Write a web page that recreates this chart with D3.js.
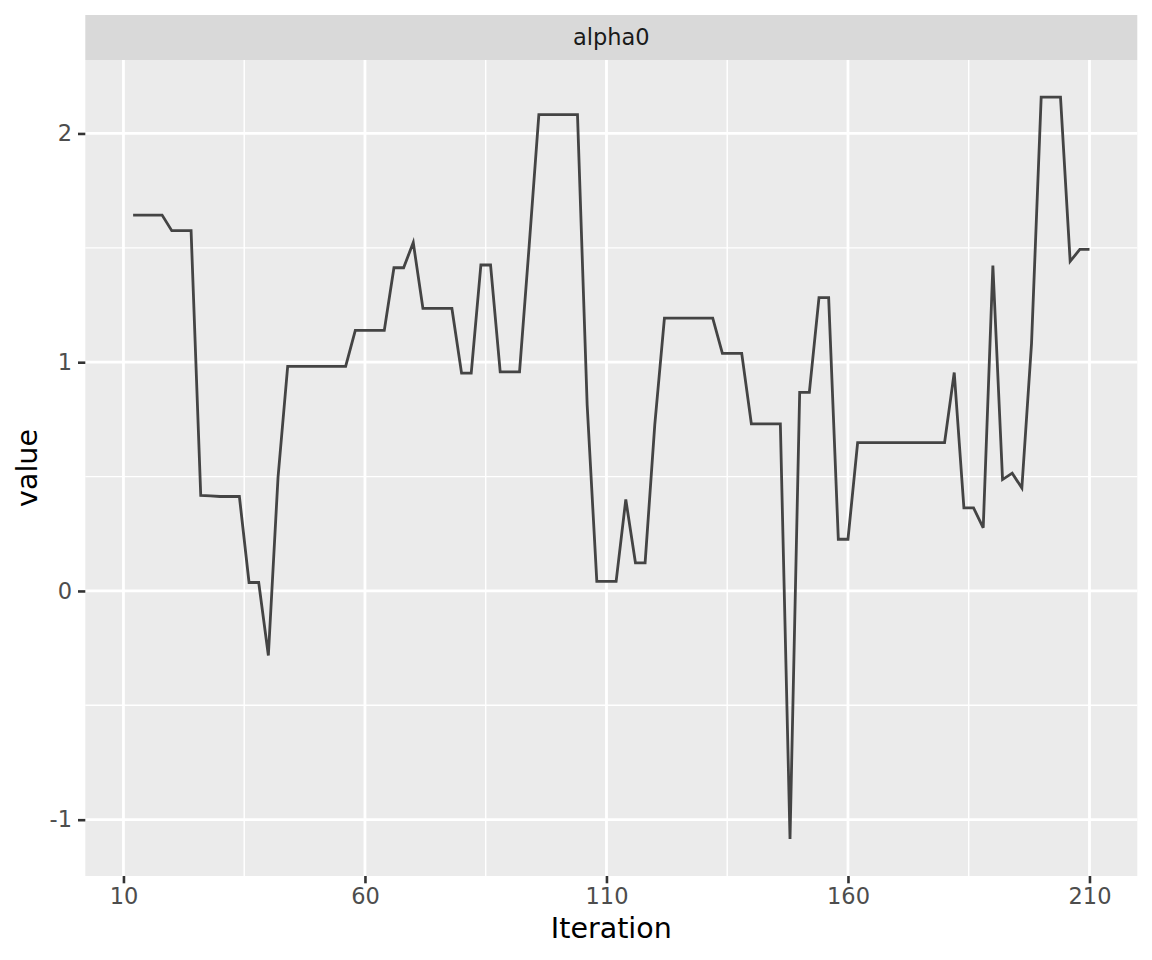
<!DOCTYPE html>
<html>
<head>
<meta charset="utf-8">
<script src="https://cdn.jsdelivr.net/npm/d3@7"></script>
<style>
  html, body { margin: 0; padding: 0; background: #fff; }
  svg text { font-family: "DejaVu Sans", sans-serif; }
</style>
</head>
<body>
<svg id="chart" width="1152" height="960"></svg>
<script>
// trace of alpha0, one value every 2 iterations
const iterations = [
  12, 14, 16, 18, 20, 22, 24, 26, 28, 30, 32, 34, 36, 38, 40, 42, 44, 46, 48, 50,
  52, 54, 56, 58, 60, 62, 64, 66, 68, 70, 72, 74, 76, 78, 80, 82, 84, 86, 88, 90,
  92, 94, 96, 98, 100, 102, 104, 106, 108, 110, 112, 114, 116, 118, 120, 122, 124, 126, 128, 130,
  132, 134, 136, 138, 140, 142, 144, 146, 148, 150, 152, 154, 156, 158, 160, 162, 164, 166, 168, 170,
  172, 174, 176, 178, 180, 182, 184, 186, 188, 190, 192, 194, 196, 198, 200, 202, 204, 206, 208, 210
];
const alpha0 = [
  1.643, 1.643, 1.643, 1.643, 1.575, 1.575, 1.575, 0.418, 0.416, 0.413,
  0.413, 0.413, 0.037, 0.037, -0.282, 0.496, 0.982, 0.982, 0.982, 0.982,
  0.982, 0.982, 0.982, 1.139, 1.139, 1.139, 1.139, 1.413, 1.413, 1.523,
  1.235, 1.235, 1.235, 1.235, 0.952, 0.952, 1.425, 1.425, 0.958, 0.958,
  0.958, 1.51, 2.082, 2.082, 2.082, 2.082, 2.082, 0.814, 0.042, 0.042,
  0.042, 0.400, 0.123, 0.123, 0.726, 1.193, 1.193, 1.193, 1.193, 1.193,
  1.193, 1.039, 1.039, 1.039, 0.730, 0.730, 0.730, 0.730, -1.084, 0.868,
  0.868, 1.282, 1.282, 0.226, 0.226, 0.648, 0.648, 0.648, 0.648, 0.648,
  0.648, 0.648, 0.648, 0.648, 0.648, 0.955, 0.363, 0.363, 0.276, 1.423,
  0.487, 0.515, 0.450, 1.081, 2.159, 2.159, 2.159, 1.441, 1.493, 1.493
];
const panelLabel = "alpha0";
const xMajor = [10, 60, 110, 160, 210];
const xMinor = [35, 85, 135, 185];
const yMajor = [-1, 0, 1, 2];
const yMinor = [-0.5, 0.5, 1.5];

const data = iterations.map((it, i) => ({ it, v: alpha0[i] }));

const panel = { left: 85.3, right: 1137.3, top: 60, bottom: 876 };
const strip = { top: 15, bottom: 60 };

// ggplot-like 5% expansion
function expand(ext) { const d = (ext[1] - ext[0]) * 0.05; return [ext[0] - d, ext[1] + d]; }

const x = d3.scaleLinear().domain(expand(d3.extent(iterations))).range([panel.left, panel.right]);
const y = d3.scaleLinear().domain(expand(d3.extent(alpha0))).range([panel.bottom, panel.top]);

const svg = d3.select("#chart");

// strip
svg.append("rect")
  .attr("x", panel.left).attr("y", strip.top)
  .attr("width", panel.right - panel.left).attr("height", strip.bottom - strip.top)
  .attr("fill", "#D9D9D9");
svg.append("text")
  .attr("x", (panel.left + panel.right) / 2).attr("y", (strip.top + strip.bottom) / 2)
  .attr("dy", "0.35em").attr("text-anchor", "middle")
  .attr("fill", "#1A1A1A").style("font-size", "22.5px")
  .text(panelLabel);

// panel background
svg.append("rect")
  .attr("x", panel.left).attr("y", panel.top)
  .attr("width", panel.right - panel.left).attr("height", panel.bottom - panel.top)
  .attr("fill", "#EBEBEB");

const grid = svg.append("g");
grid.selectAll(".ymin").data(yMinor).enter().append("line")
  .attr("x1", panel.left).attr("x2", panel.right)
  .attr("y1", d => y(d)).attr("y2", d => y(d))
  .attr("stroke", "#fff").attr("stroke-width", 1.4);
grid.selectAll(".xmin").data(xMinor).enter().append("line")
  .attr("y1", panel.top).attr("y2", panel.bottom)
  .attr("x1", d => x(d)).attr("x2", d => x(d))
  .attr("stroke", "#fff").attr("stroke-width", 1.4);
grid.selectAll(".ymaj").data(yMajor).enter().append("line")
  .attr("x1", panel.left).attr("x2", panel.right)
  .attr("y1", d => y(d)).attr("y2", d => y(d))
  .attr("stroke", "#fff").attr("stroke-width", 2.8);
grid.selectAll(".xmaj").data(xMajor).enter().append("line")
  .attr("y1", panel.top).attr("y2", panel.bottom)
  .attr("x1", d => x(d)).attr("x2", d => x(d))
  .attr("stroke", "#fff").attr("stroke-width", 2.8);

// trace line
svg.append("path")
  .datum(data)
  .attr("fill", "none")
  .attr("stroke", "#444444")
  .attr("stroke-width", 2.8)
  .attr("stroke-linejoin", "miter")
  .attr("d", d3.line().x(d => x(d.it)).y(d => y(d.v)));

// axes (plain hyphen for negatives, like R)
const fmt = d => String(d);
const xAxis = d3.axisBottom(x).tickValues(xMajor).tickSize(7.3).tickPadding(5).tickFormat(fmt);
const yAxis = d3.axisLeft(y).tickValues(yMajor).tickSize(7.3).tickPadding(6).tickFormat(fmt);

const gx = svg.append("g").attr("transform", `translate(0,${panel.bottom})`).call(xAxis);
const gy = svg.append("g").attr("transform", `translate(${panel.left},0)`).call(yAxis);
[gx, gy].forEach(g => {
  g.select(".domain").remove();
  g.selectAll(".tick line").attr("stroke", "#333333").attr("stroke-width", 2.6);
  g.selectAll(".tick text").attr("fill", "#4D4D4D").style("font-size", "22.5px")
    .style("font-family", '"DejaVu Sans", sans-serif');
});

// titles
svg.append("text")
  .attr("x", (panel.left + panel.right) / 2).attr("y", 938)
  .attr("text-anchor", "middle").attr("fill", "#000")
  .style("font-size", "28.5px").text("Iteration");
svg.append("text")
  .attr("transform", `translate(37,${(panel.top + panel.bottom) / 2}) rotate(-90)`)
  .attr("text-anchor", "middle").attr("fill", "#000")
  .style("font-size", "28.5px").text("value");
</script>
</body>
</html>
